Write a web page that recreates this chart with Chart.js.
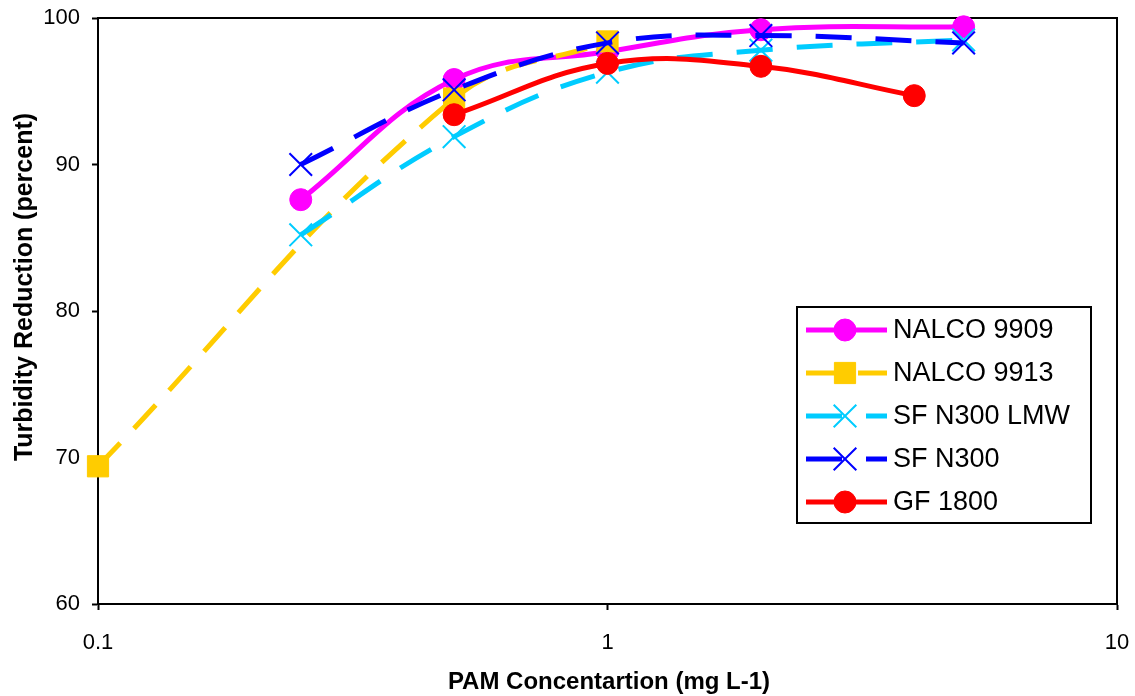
<!DOCTYPE html>
<html>
<head>
<meta charset="utf-8">
<script src="https://cdn.jsdelivr.net/npm/chart.js@4"></script>
<style>
  html, body { margin: 0; padding: 0; background: #fff; }
  #wrap { width: 1135px; height: 696px; }
</style>
</head>
<body>
<div id="wrap"><canvas id="turbChart" width="1135" height="696"></canvas></div>
<script>
// values
const seriesNames = ["NALCO 9909", "NALCO 9913", "SF N300 LMW", "SF N300", "GF 1800"];

const xNalco9909 = [0.25, 0.5, 1, 2, 5];
const yNalco9909 = [87.6, 95.8, 97.7, 99.2, 99.4];

const xNalco9913 = [0.1, 0.5, 1];
const yNalco9913 = [69.4, 94.5, 98.4];

const xSfLmw = [0.25, 0.5, 1, 2, 5];
const ySfLmw = [85.2, 91.9, 96.3, 97.8, 98.5];

const xSfN300 = [0.25, 0.5, 1, 2, 5];
const ySfN300 = [90.0, 95.1, 98.3, 98.8, 98.3];

const xGf1800 = [0.5, 1, 2, 4];
const yGf1800 = [93.4, 96.9, 96.7, 94.7];

const xTicks = [0.1, 1, 10];
const yTicks = [60, 70, 80, 90, 100];

const xTitle = "PAM Concentartion (mg L-1)";
const yTitle = "Turbidity Reduction (percent)";

const FONT = "'Liberation Sans', Arial, sans-serif";

function pts(xs, ys) {
  return xs.map(function (x, i) { return { x: x, y: ys[i] }; });
}

function makeSet(idx, xs, ys, color, style, radius, dash) {
  const isCross = style === "crossRot";
  return {
    label: seriesNames[idx],
    data: pts(xs, ys),
    order: seriesNames.length - idx, // later series on top, like excel
    borderColor: color,
    backgroundColor: color,
    borderWidth: 5,
    borderDash: dash,
    tension: 0.4,
    pointStyle: style,
    pointRadius: radius,
    pointHoverRadius: radius,
    pointBackgroundColor: color,
    pointBorderColor: color,
    pointBorderWidth: isCross ? 2 : 1,
    clip: false
  };
}

// frame around the plot area, drawn behind the series
const framePlugin = {
  id: "frame",
  beforeDatasetsDraw(chart) {
    const a = chart.chartArea, ctx = chart.ctx;
    ctx.save();
    ctx.strokeStyle = "#000";
    ctx.lineWidth = 2;
    ctx.strokeRect(a.left, a.top, a.right - a.left, a.bottom - a.top);
    ctx.restore();
  }
};

// axis titles
const titlesPlugin = {
  id: "titles",
  afterDraw(chart) {
    const ctx = chart.ctx;
    ctx.save();
    ctx.fillStyle = "#000";
    ctx.textAlign = "center";
    ctx.textBaseline = "middle";
    ctx.font = "bold 24px " + FONT;
    ctx.fillText(xTitle, 609, 682);
    ctx.translate(25, 287);
    ctx.rotate(-Math.PI / 2);
    ctx.font = "bold 25px " + FONT;
    ctx.fillText(yTitle, 0, 0);
    ctx.restore();
  }
};

// boxed legend inside the plot, excel style (line + marker)
const legendPlugin = {
  id: "boxLegend",
  afterDraw(chart) {
    const ctx = chart.ctx;
    const bx = 797, by = 307, bw = 294, bh = 216;
    ctx.save();
    ctx.fillStyle = "#fff";
    ctx.fillRect(bx, by, bw, bh);
    ctx.strokeStyle = "#000";
    ctx.lineWidth = 2;
    ctx.strokeRect(bx, by, bw, bh);

    chart.data.datasets.forEach(function (ds, i) {
      const cy = 330 + i * 43;
      ctx.save();
      ctx.strokeStyle = ds.borderColor;
      ctx.lineWidth = ds.borderWidth;
      ctx.lineCap = "butt";
      ctx.setLineDash(ds.borderDash || []);
      ctx.beginPath();
      ctx.moveTo(806, cy);
      ctx.lineTo(887, cy);
      ctx.stroke();
      ctx.restore();

      ctx.save();
      ctx.fillStyle = ds.pointBackgroundColor;
      ctx.strokeStyle = ds.pointBorderColor;
      ctx.lineWidth = ds.pointBorderWidth;
      Chart.helpers.drawPoint(ctx, {
        pointStyle: ds.pointStyle,
        radius: ds.pointRadius,
        borderWidth: ds.pointBorderWidth,
        rotation: 0
      }, 845, cy);
      ctx.restore();

      ctx.fillStyle = "#000";
      ctx.font = "27px " + FONT;
      ctx.textAlign = "left";
      ctx.textBaseline = "middle";
      ctx.fillText(ds.label, 893, cy + 1);
    });
    ctx.restore();
  }
};

// drop the label-overflow padding so the layout padding sets the plot box
function noOverflow(scale) {
  scale.paddingLeft = 0;
  scale.paddingRight = 0;
  scale.paddingTop = 0;
  scale.paddingBottom = 0;
}

new Chart(document.getElementById("turbChart"), {
  type: "line",
  data: {
    datasets: [
      makeSet(0, xNalco9909, yNalco9909, "#ff00ff", "circle", 11, []),
      makeSet(1, xNalco9913, yNalco9913, "#ffcc00", "rect", 15, [32, 20]),
      makeSet(2, xSfLmw, ySfLmw, "#00ccff", "crossRot", 16, [36, 24]),
      makeSet(3, xSfN300, ySfN300, "#0000ff", "crossRot", 16, [36, 24]),
      makeSet(4, xGf1800, yGf1800, "#ff0000", "circle", 11, [])
    ]
  },
  options: {
    responsive: false,
    animation: false,
    devicePixelRatio: 1,
    layout: { padding: { left: 0, top: 18, right: 17, bottom: 0 } },
    plugins: {
      legend: { display: false },
      tooltip: { enabled: false }
    },
    scales: {
      x: {
        type: "logarithmic",
        min: 0.1,
        max: 10,
        afterBuildTicks(scale) {
          scale.ticks = xTicks.map(function (v) { return { value: v }; });
        },
        afterFit(scale) { scale.height = 92; noOverflow(scale); },
        border: { display: true, color: "#000", width: 2 },
        grid: { display: true, drawOnChartArea: false, drawTicks: true, tickLength: 6, tickColor: "#000", tickWidth: 2 },
        ticks: {
          color: "#000",
          font: { family: FONT, size: 22 },
          padding: 20,
          maxRotation: 0,
          autoSkip: false,
          callback(v) { return String(v); }
        },
        title: { display: false }
      },
      y: {
        type: "linear",
        min: 60,
        max: 100,
        afterBuildTicks(scale) {
          scale.ticks = yTicks.map(function (v) { return { value: v }; });
        },
        afterFit(scale) { scale.width = 98; noOverflow(scale); },
        border: { display: true, color: "#000", width: 2 },
        grid: { display: true, drawOnChartArea: false, drawTicks: true, tickLength: 6, tickColor: "#000", tickWidth: 2 },
        ticks: {
          color: "#000",
          font: { family: FONT, size: 22 },
          padding: 12
        },
        title: { display: false }
      }
    }
  },
  plugins: [framePlugin, titlesPlugin, legendPlugin]
});
</script>
</body>
</html>
